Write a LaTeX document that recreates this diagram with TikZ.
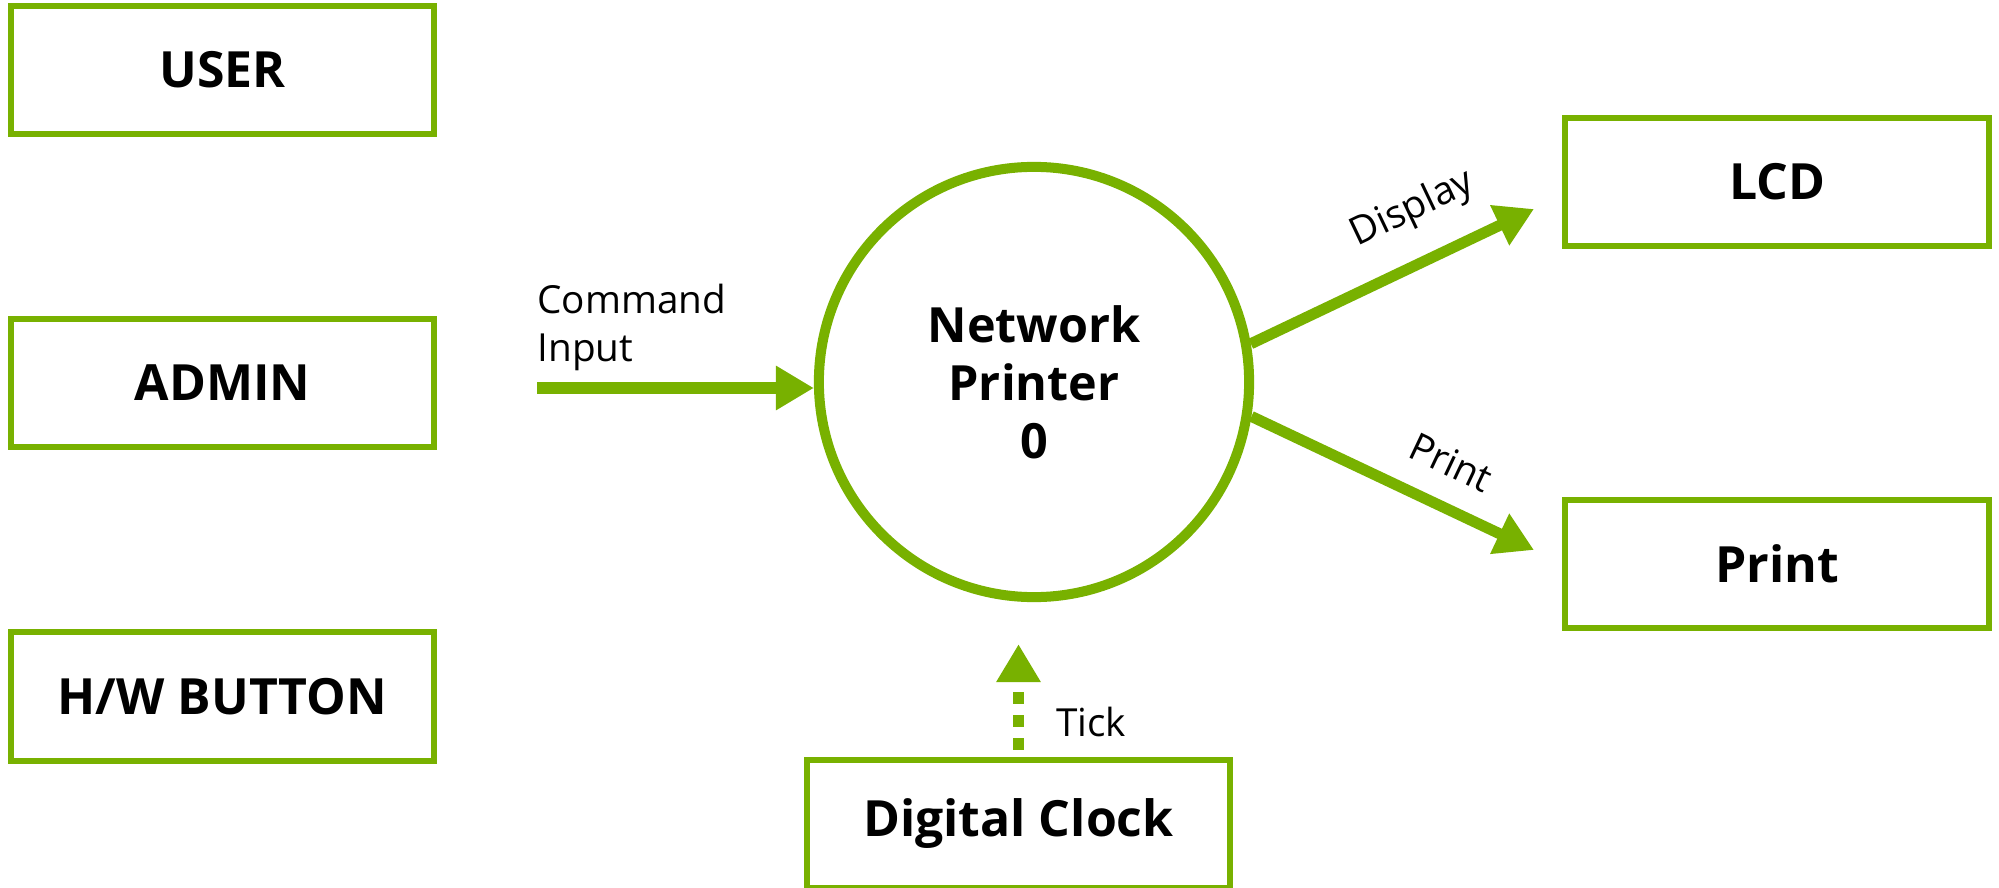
\documentclass[tikz,border=0pt]{standalone}
\usepackage{fontspec}
\setmainfont{Open Sans}
\usepackage{tikz}
\usetikzlibrary{positioning, arrows.meta}
\definecolor{dfdgreen}{HTML}{78B100}
\newcommand{\B}[1]{\textbf{#1}}

\tikzset{
  entity/.style={draw=dfdgreen, line width=0.06cm, minimum width=4.23cm,
    minimum height=1.28cm, inner sep=0pt, font=\fontsize{14.2pt}{16.5pt}\selectfont},
  process/.style={circle, draw=dfdgreen, line width=0.1cm, minimum size=4.3cm,
    inner sep=0pt, align=center, font=\fontsize{13.8pt}{16.5pt}\selectfont},
  flow/.style={draw=dfdgreen, line width=0.11cm, -{Triangle[length=0.38cm, width=0.42cm]}},
  tickflow/.style={flow, dash pattern=on 0.12cm off 0.11cm},
  lbl/.style={font=\fontsize{11pt}{13.6pt}\selectfont, inner sep=0pt}
}

\begin{document}
\begin{tikzpicture}[x=0.01cm, y=-0.01cm]
    \useasboundingbox (0,0) rectangle (1999,888);
    % Entidades de la izquierda
    \node[entity] (user) at (222.5,70) {\B{USER}};
    \node[entity] (admin) at (222.5,383) {\B{ADMIN}};
    \node[entity] (button) at (222.5,696.5) {\B{H/W BUTTON}};
    % Proceso central
    \node[process] (printer) at (1034,382) {\B{Network}\\\B{Printer}\\\B{0}};
    % Entidades de la derecha y de abajo
    \node[entity] (lcd) at (1777,182) {\B{LCD}};
    \node[entity] (print) at (1777,564) {\B{Print}};
    \node[entity] (clock) at (1018.5,824) {\B{Digital Clock}};
    % Extremos libres de las flechas
    \coordinate (cmdin) at (537,388);
    \coordinate (disptip) at (1534,209);
    \coordinate (prttip) at (1534,550);
    % Flecha 'Command Input'
    \draw[flow] (cmdin) -- (cmdin -| printer.west)
        node[lbl, pos=0, anchor=south west, align=left, xshift=-0.05cm, yshift=0.12cm] (cmdlbl) {Command\\Input};
    % Flechas hacia la derecha
    \draw[flow] (printer.10.6) -- (disptip)
        node[lbl, sloped, above=0.27cm, pos=0.65] (displbl) {Display};
    \draw[flow] (printer.-9.3) -- (prttip)
        node[lbl, sloped, above=0.24cm, pos=0.64] (prtlbl) {Print};
    % Flecha punteada 'Tick'
    \draw[tickflow, shorten <=0.07cm, shorten >=0.42cm] (clock) -- (clock |- printer.south)
        node[lbl, pos=0.226, anchor=west, xshift=0.32cm] (ticklbl) {Tick};
\end{tikzpicture}
\end{document}
